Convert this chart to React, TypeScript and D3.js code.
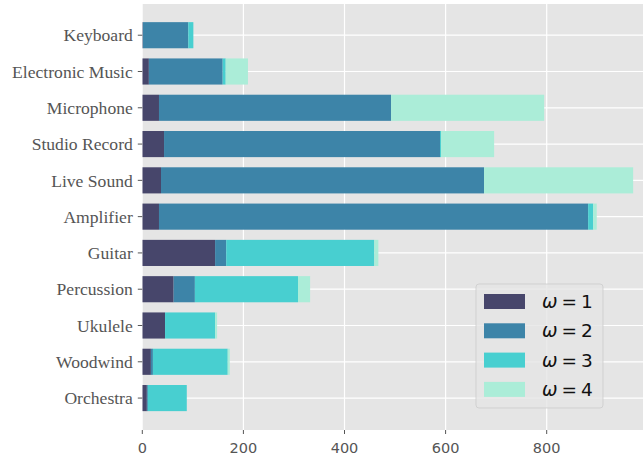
import React from "react";
import * as d3 from "d3";

const categories = [
  "Keyboard",
  "Electronic Music",
  "Microphone",
  "Studio Record",
  "Live Sound",
  "Amplifier",
  "Guitar",
  "Percussion",
  "Ukulele",
  "Woodwind",
  "Orchestra",
];
const omega1 = [1, 13, 33, 43, 37, 33, 144, 62, 45, 17, 9];
const omega2 = [90, 146, 459, 546, 639, 849, 22, 42, 0, 4, 2];
const omega3 = [10, 6, 0, 2, 0, 10, 293, 204, 99, 148, 77];
const omega4 = [0, 44, 303, 105, 295, 7, 8, 24, 4, 4, 0];
const seriesLabels = ["1", "2", "3", "4"];
const colors = ["#47466b", "#3d84a8", "#48cfd0", "#abedd8"];
const xTicks = [0, 200, 400, 600, 800];

const W = 643;
const H = 455;
const left = 142.3;
const right = 643;
const top = 4;
const bottom = 430;

export default function App() {
  const series = [omega1, omega2, omega3, omega4];
  const n = categories.length;
  const x = d3.scaleLinear().domain([0, 990.5]).range([left, right]);
  const y = d3.scaleLinear().domain([-0.88, 10.86]).range([bottom, top]);
  const yPos = (i: number) => y(n - 1 - i);
  const band = (y(0) - y(1)) * 0.72;

  const rows = categories.map((c, i) => {
    const vals = series.map((s) => s[i]);
    const segs: { x0: number; x1: number; k: number }[] = [];
    let acc = 0;
    vals.forEach((v, k) => {
      segs.push({ x0: acc, x1: acc + v, k });
      acc += v;
    });
    return { c, i, segs };
  });

  const legX = 476;
  const legY = 284;
  return (
    <svg
      width={W}
      height={H}
      style={{ position: "absolute", left: 0, top: 0, background: "#fff" }}
    >
      <defs>
        <clipPath id="panel">
          <rect x={left} y={top} width={right - left} height={bottom - top} />
        </clipPath>
      </defs>
      <rect x={left} y={top} width={right - left} height={bottom - top} fill="#e5e5e5" />
      <g clipPath="url(#panel)">
        {xTicks.map((t) => (
          <line key={t} x1={x(t)} x2={x(t)} y1={top} y2={bottom} stroke="#fff" strokeWidth={1.2} />
        ))}
        {categories.map((c, i) => (
          <line key={c} x1={left} x2={right} y1={yPos(i)} y2={yPos(i)} stroke="#fff" strokeWidth={1.2} />
        ))}
        {rows.map((r) =>
          r.segs.map((s) =>
            s.x1 > s.x0 ? (
              <rect
                key={r.c + s.k}
                x={x(s.x0)}
                y={yPos(r.i) - band / 2}
                width={x(s.x1) - x(s.x0)}
                height={band}
                fill={colors[s.k]}
              />
            ) : null
          )
        )}
      </g>
      {categories.map((c, i) => (
        <g key={c}>
          <line x1={left - 4.5} x2={left} y1={yPos(i)} y2={yPos(i)} stroke="#555" strokeWidth={1} />
          <text
            x={left - 9.5}
            y={yPos(i)}
            dy="0.35em"
            textAnchor="end"
            fontFamily="'Liberation Serif', 'Times New Roman', serif"
            fontSize={17.6}
            fill="#555"
          >
            {c}
          </text>
        </g>
      ))}
      {xTicks.map((t) => (
        <g key={t}>
          <line x1={x(t)} x2={x(t)} y1={bottom} y2={bottom + 4} stroke="#555" strokeWidth={1} />
          <text
            x={x(t)}
            y={bottom + 17.5}
            dy="0.35em"
            textAnchor="middle"
            fontFamily="'DejaVu Sans', sans-serif"
            fontSize={14.5}
            fill="#555"
          >
            {t}
          </text>
        </g>
      ))}
      <rect
        x={legX}
        y={legY}
        width={127}
        height={124}
        rx={3}
        fill="#e5e5e5"
        fillOpacity={0.8}
        stroke="#cccccc"
        strokeOpacity={0.8}
        strokeWidth={1}
      />
      {seriesLabels.map((lab, k) => {
        const cy = 301.5 + k * 29.3;
        return (
          <g key={lab}>
            <rect x={484} y={cy - 7.5} width={41} height={15} fill={colors[k]} />
            <text
              x={542}
              y={cy}
              dy="0.35em"
              fontFamily="'DejaVu Sans', sans-serif"
              fontSize={18.5}
              fill="#111"
            >
              <tspan fontStyle="italic">ω</tspan>
              <tspan dx={4}>=</tspan>
              <tspan dx={4}>{lab}</tspan>
            </text>
          </g>
        );
      })}
    </svg>
  );
}
